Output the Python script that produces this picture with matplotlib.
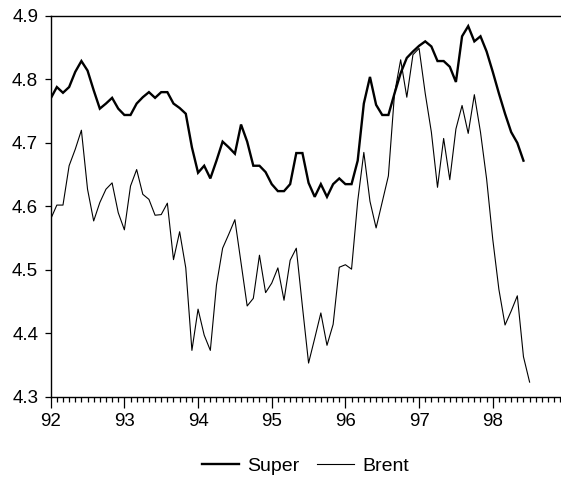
import matplotlib
matplotlib.use("Agg")
import matplotlib.pyplot as plt
import numpy as np

plt.rcParams['font.family'] = ['Liberation Sans', 'DejaVu Sans']

# Monthly observations starting 1992M01
super_vals = [
    4.770, 4.788, 4.779, 4.788, 4.812, 4.829, 4.814, 4.783, 4.754, 4.762, 4.771, 4.754,
    4.744, 4.744, 4.762, 4.772, 4.780, 4.771, 4.780, 4.780, 4.762, 4.755, 4.746, 4.693,
    4.653, 4.664, 4.644, 4.672, 4.702, 4.693, 4.683, 4.729, 4.702, 4.664, 4.664, 4.654,
    4.635, 4.624, 4.624, 4.635, 4.684, 4.684, 4.637, 4.615, 4.635, 4.615, 4.635, 4.644,
    4.635, 4.635, 4.672, 4.762, 4.804, 4.760, 4.744, 4.744, 4.778, 4.810, 4.834, 4.844,
    4.853, 4.860, 4.852, 4.829, 4.829, 4.820, 4.796, 4.868, 4.884, 4.860, 4.868, 4.844,
    4.812, 4.778, 4.746, 4.717, 4.700, 4.672,
]
brent_vals = [
    4.580, 4.602, 4.602, 4.664, 4.690, 4.720, 4.627, 4.577, 4.606, 4.627, 4.637, 4.590,
    4.563, 4.632, 4.658, 4.619, 4.611, 4.586, 4.587, 4.605, 4.516, 4.560, 4.503, 4.373,
    4.438, 4.397, 4.373, 4.476, 4.534, 4.556, 4.579, 4.511, 4.443, 4.455, 4.523, 4.464,
    4.479, 4.503, 4.452, 4.515, 4.534, 4.442, 4.353, 4.392, 4.432, 4.381, 4.414, 4.504,
    4.508, 4.501, 4.608, 4.685, 4.608, 4.566, 4.607, 4.648, 4.778, 4.831, 4.772, 4.839,
    4.849, 4.778, 4.717, 4.630, 4.707, 4.642, 4.722, 4.759, 4.715, 4.776, 4.717, 4.643,
    4.548, 4.469, 4.413, 4.435, 4.459, 4.363, 4.323,
]
year_labels = ['92', '93', '94', '95', '96', '97', '98']
y_ticks = [4.3, 4.4, 4.5, 4.6, 4.7, 4.8, 4.9]
n_months = 84  # sample 1992M01 - 1998M12

W, H = 561, 484
fig = plt.figure(figsize=(W / 100, H / 100), dpi=100)
left, right, top, bottom = 50.7, 560.3, 16.0, 396.7
ax = fig.add_axes([left / W, 1 - bottom / H, (right - left) / W, (bottom - top) / H])

x_super = np.arange(len(super_vals))
x_brent = np.arange(len(brent_vals))
ax.plot(x_super, super_vals, color='black', lw=1.7, label='Super', solid_joinstyle='miter')
ax.plot(x_brent, brent_vals, color='black', lw=0.8, label='Brent')

ax.set_xlim(0, n_months - 1)
ax.set_ylim(4.3, 4.9)
ax.set_yticks(y_ticks)
ax.set_yticklabels([f'{v:.1f}' for v in y_ticks])
ax.set_xticks(np.arange(0, 12 * len(year_labels), 12))
ax.set_xticklabels(year_labels)
ax.set_xticks(np.arange(0, n_months), minor=True)

ax.spines['right'].set_visible(False)
for s in ['left', 'top', 'bottom']:
    ax.spines[s].set_linewidth(1.0)
ax.tick_params(axis='y', direction='out', length=4.5, width=0.9, pad=4.5, labelsize=13.5)
ax.tick_params(axis='x', which='major', direction='out', length=8, width=0.9, pad=3.5, labelsize=13.5)
ax.tick_params(axis='x', which='minor', direction='out', length=3.8, width=0.9)
ax.tick_params(axis='y', which='minor', left=False)

ax.legend(loc='center', bbox_to_anchor=(0.5, -0.182), ncol=2, frameon=False,
          fontsize=14, handlelength=1.9, handletextpad=0.45, columnspacing=0.9)

fig.savefig('out.png', dpi=100)
